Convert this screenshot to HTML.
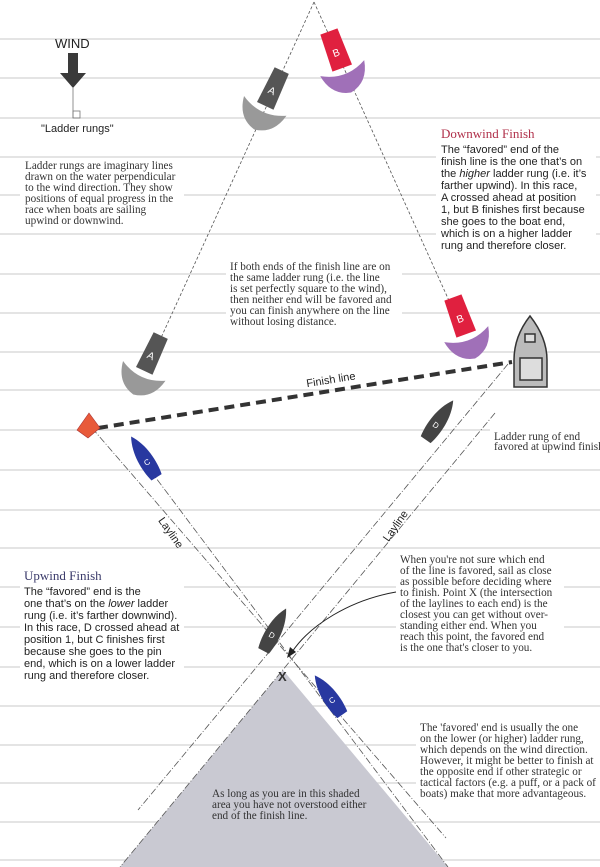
<!DOCTYPE html>
<html><head><meta charset="utf-8"><style>
body{margin:0;background:#fff}
svg{display:block}
.s{font-family:"Liberation Serif",serif;font-size:11.2px;fill:#333}
.a{font-family:"Liberation Sans",sans-serif;font-size:11px;fill:#222}
</style></head><body>
<svg width="600" height="867" viewBox="0 0 600 867" xmlns="http://www.w3.org/2000/svg">
<g stroke="#d4d4d4" stroke-width="1.2">
<line x1="0" y1="39" x2="600" y2="39"/><line x1="0" y1="78" x2="600" y2="78"/><line x1="0" y1="118" x2="600" y2="118"/><line x1="0" y1="157" x2="600" y2="157"/><line x1="0" y1="195" x2="600" y2="195"/><line x1="0" y1="234" x2="600" y2="234"/><line x1="0" y1="274" x2="600" y2="274"/><line x1="0" y1="313" x2="600" y2="313"/><line x1="0" y1="352" x2="600" y2="352"/><line x1="0" y1="390" x2="600" y2="390"/><line x1="0" y1="430" x2="600" y2="430"/><line x1="0" y1="470" x2="600" y2="470"/><line x1="0" y1="510" x2="600" y2="510"/><line x1="0" y1="548" x2="600" y2="548"/><line x1="0" y1="587" x2="600" y2="587"/><line x1="0" y1="627" x2="600" y2="627"/><line x1="0" y1="667" x2="600" y2="667"/><line x1="0" y1="706" x2="600" y2="706"/><line x1="0" y1="745" x2="600" y2="745"/><line x1="0" y1="783" x2="600" y2="783"/><line x1="0" y1="822" x2="600" y2="822"/><line x1="0" y1="860" x2="600" y2="860"/>
</g>
<polygon points="283,670 448,867 120,867" fill="#c9c9d2"/>
<g fill="#fff">
<rect x="20" y="158" width="164" height="72"/>
<rect x="436" y="124" width="160" height="128"/>
<rect x="226" y="258" width="176" height="72"/>
<rect x="490" y="428" width="110" height="26"/>
<rect x="20" y="564" width="164" height="120"/>
<rect x="396" y="552" width="168" height="102"/>
<rect x="416" y="718" width="184" height="82"/>
</g>
<g stroke="#555" stroke-width="0.8" stroke-dasharray="3,2" fill="none">
<line x1="314" y1="2" x2="160" y2="340"/>
<line x1="314" y1="2" x2="460" y2="325"/>
</g>
<g stroke="#555" stroke-width="0.8" stroke-dasharray="7,2,1,2" fill="none">
<line x1="92" y1="428" x2="446" y2="838"/>
<line x1="150" y1="470" x2="448" y2="867"/>
<line x1="508" y1="364" x2="138" y2="810"/>
<line x1="495" y1="413" x2="120" y2="867"/>
</g>
<line x1="98" y1="428" x2="512" y2="362" stroke="#333" stroke-width="4" stroke-dasharray="10,6"/>
<text x="306" y="385" class="a" font-size="10" transform="rotate(-9 320 380)">Finish line</text>
<polygon points="89,413 100,428 88,438 77,430" fill="#e85a3a" stroke="#a33" stroke-width="0.6"/>
<g stroke="#333" stroke-width="1.5" fill="#bbb">
<path d="M530,316 C519,330 514,345 514,360 L514,387 L547,387 L547,360 C547,345 541,330 530,316Z"/>
<rect x="520" y="358" width="22" height="22" fill="#ddd"/>
<rect x="525" y="334" width="10" height="8" fill="#ddd"/>
</g>
<text x="55" y="48" font-family="Liberation Sans,sans-serif" font-size="13" fill="#222">WIND</text>
<polygon points="68,53 78,53 78,73 86,73 73,88 60,73 68,73" fill="#3a3a3a"/>
<line x1="73" y1="88" x2="73" y2="118" stroke="#777" stroke-width="0.8"/>
<rect x="73" y="111" width="7" height="7" fill="none" stroke="#777" stroke-width="0.8"/>
<text x="41" y="132" class="a" font-size="10">"Ladder rungs"</text>
<text class="s"><tspan x="25" y="169">Ladder rungs are imaginary lines</tspan><tspan x="25" y="180">drawn on the water perpendicular</tspan><tspan x="25" y="191">to the wind direction. They show</tspan><tspan x="25" y="202">positions of equal progress in the</tspan><tspan x="25" y="213">race when boats are sailing</tspan><tspan x="25" y="224">upwind or downwind.</tspan></text>
<text x="441" y="138" font-family="Liberation Serif,serif" font-size="13" fill="#b0304a">Downwind Finish</text>
<text class="a"><tspan x="441" y="153">The “favored” end of the</tspan><tspan x="441" y="165">finish line is the one that’s on</tspan><tspan x="441" y="177">the <tspan font-style="italic">higher</tspan> ladder rung (i.e. it’s</tspan><tspan x="441" y="189">farther upwind).  In this race,</tspan><tspan x="441" y="201">A crossed ahead at position</tspan><tspan x="441" y="213">1, but B finishes first because</tspan><tspan x="441" y="225">she goes to the boat end,</tspan><tspan x="441" y="237">which is on a higher ladder</tspan><tspan x="441" y="249">rung and therefore closer.</tspan></text>
<text class="s"><tspan x="230" y="270">If both ends of the finish line are on</tspan><tspan x="230" y="281">the same ladder rung (i.e. the line</tspan><tspan x="230" y="292">is set perfectly square to the wind),</tspan><tspan x="230" y="303">then neither end will be favored and</tspan><tspan x="230" y="314">you can finish anywhere on the line</tspan><tspan x="230" y="325">without losing distance.</tspan></text>
<text class="s" font-size="10.6"><tspan x="494" y="440">Ladder rung of end</tspan><tspan x="494" y="450">favored at upwind finish</tspan></text>
<text x="156" y="532" class="a" font-size="9" transform="rotate(55 168 528)">Layline</text>
<text x="380" y="534" class="a" font-size="9" transform="rotate(-55 392 530)">Layline</text>
<text x="24" y="580" font-family="Liberation Serif,serif" font-size="13" fill="#3a3a6a">Upwind Finish</text>
<text class="a"><tspan x="24" y="595">The “favored” end is the</tspan><tspan x="24" y="607">one that’s on the <tspan font-style="italic">lower</tspan> ladder</tspan><tspan x="24" y="619">rung (i.e. it’s farther downwind).</tspan><tspan x="24" y="631">In this race, D crossed ahead at</tspan><tspan x="24" y="643">position 1, but C finishes first</tspan><tspan x="24" y="655">because she goes to the pin</tspan><tspan x="24" y="667">end, which is on a lower ladder</tspan><tspan x="24" y="679">rung and therefore closer.</tspan></text>
<text class="s"><tspan x="400" y="563">When you're not sure which end</tspan><tspan x="400" y="574">of the line is favored, sail as close</tspan><tspan x="400" y="585">as possible before deciding where</tspan><tspan x="400" y="596">to finish. Point X (the intersection</tspan><tspan x="400" y="607">of the laylines to each end) is the</tspan><tspan x="400" y="618">closest you can get without over-</tspan><tspan x="400" y="629">standing either end. When you</tspan><tspan x="400" y="640">reach this point, the favored end</tspan><tspan x="400" y="651">is the one that's closer to you.</tspan></text>
<path d="M396,592 C350,600 310,625 292,652" fill="none" stroke="#222" stroke-width="1"/>
<polygon points="287,658 290,647 296,652" fill="#222"/>
<text x="278" y="681" font-family="Liberation Sans,sans-serif" font-weight="bold" font-size="13" fill="#333">X</text>
<text class="s"><tspan x="420" y="731">The 'favored' end is usually the one</tspan><tspan x="420" y="742">on the lower (or higher) ladder rung,</tspan><tspan x="420" y="753">which depends on the wind direction.</tspan><tspan x="420" y="764">However, it might be better to finish at</tspan><tspan x="420" y="775">the opposite end if other strategic or</tspan><tspan x="420" y="786">tactical factors (e.g. a puff, or a pack of</tspan><tspan x="420" y="797">boats) make that more advantageous.</tspan></text>
<text class="s"><tspan x="212" y="797">As long as you are in this shaded</tspan><tspan x="212" y="808">area you have not overstood either</tspan><tspan x="212" y="819">end of the finish line.</tspan></text>
<g transform="translate(268,100) rotate(25) scale(1.3)">
<path d="M-6,-25 L6,-25 L7,5 L-7,5Z" fill="#555"/>
<path d="M-18,5 Q0,15 18,5 Q15,22 0,25 Q-15,22 -18,5Z" fill="#999"/>
<text x="-3" y="-5" font-family="Liberation Sans,sans-serif" font-size="8" fill="#fff">A</text>
</g>
<g transform="translate(340,62) rotate(-20) scale(1.3)">
<path d="M-7,-25 L7,-25 L8,5 L-8,5Z" fill="#e0203f"/>
<path d="M-18,5 Q0,15 18,5 Q15,22 0,25 Q-15,22 -18,5Z" fill="#a070b8"/>
<text x="-3" y="-5" font-family="Liberation Sans,sans-serif" font-size="8" fill="#fff">B</text>
</g>
<g transform="translate(147,365) rotate(25) scale(1.3)">
<path d="M-6,-25 L6,-25 L7,5 L-7,5Z" fill="#555"/>
<path d="M-18,5 Q0,15 18,5 Q15,22 0,25 Q-15,22 -18,5Z" fill="#999"/>
<text x="-3" y="-5" font-family="Liberation Sans,sans-serif" font-size="8" fill="#fff">A</text>
</g>
<g transform="translate(464,328) rotate(-20) scale(1.3)">
<path d="M-7,-25 L7,-25 L8,5 L-8,5Z" fill="#e0203f"/>
<path d="M-18,5 Q0,15 18,5 Q15,22 0,25 Q-15,22 -18,5Z" fill="#a070b8"/>
<text x="-3" y="-5" font-family="Liberation Sans,sans-serif" font-size="8" fill="#fff">B</text>
</g>
<g transform="translate(436,425) rotate(35)">
<path d="M0,-30 C9,-15 9,5 6,18 L-6,18 C-9,5 -9,-15 0,-30Z" fill="#444"/>
<text x="-3" y="3" font-family="Liberation Sans,sans-serif" font-size="8" fill="#fff">D</text>
</g>
<g transform="translate(272,635) rotate(28)">
<path d="M0,-30 C9,-15 9,5 6,18 L-6,18 C-9,5 -9,-15 0,-30Z" fill="#444"/>
<text x="-3" y="3" font-family="Liberation Sans,sans-serif" font-size="8" fill="#fff">D</text>
</g>
<g transform="translate(147,462) rotate(-32)">
<path d="M0,-30 C9,-15 9,5 6,18 L-6,18 C-9,5 -9,-15 0,-30Z" fill="#2838a0"/>
<text x="-3" y="3" font-family="Liberation Sans,sans-serif" font-size="8" fill="#fff">C</text>
</g>
<g transform="translate(332,700) rotate(-35)">
<path d="M0,-30 C9,-15 9,5 6,18 L-6,18 C-9,5 -9,-15 0,-30Z" fill="#2838a0"/>
<text x="-3" y="3" font-family="Liberation Sans,sans-serif" font-size="8" fill="#fff">C</text>
</g>
</svg>
</body></html>
